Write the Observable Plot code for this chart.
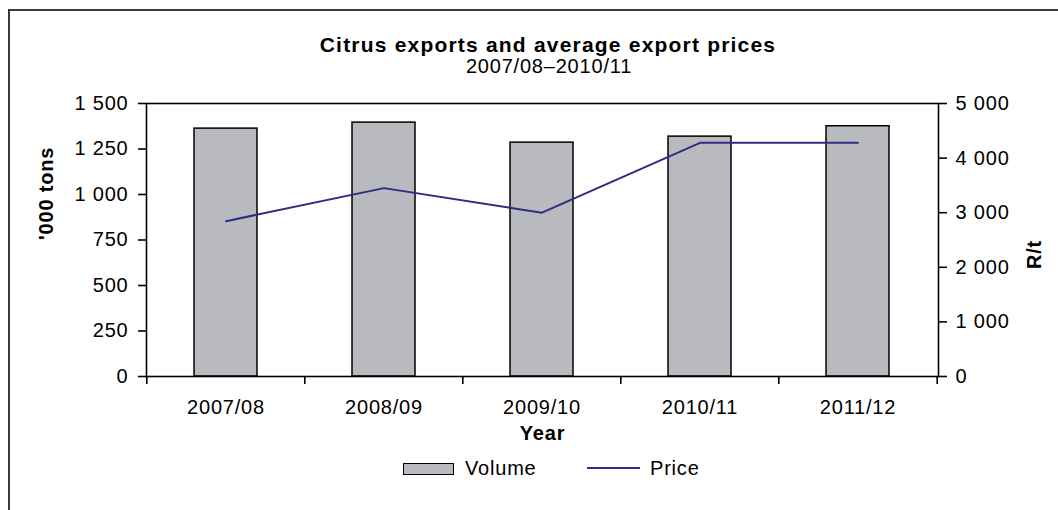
<!DOCTYPE html>
<html><head><meta charset="utf-8">
<script src="https://cdn.jsdelivr.net/npm/d3@7"></script>
<script src="https://cdn.jsdelivr.net/npm/@observablehq/plot@0.6"></script>
<style>
body{margin:0;background:#fff;font-family:"Liberation Sans",Arial,sans-serif;color:#000}
#wrap{position:relative;width:1058px;height:510px;overflow:hidden;background:#fff}
#border{position:absolute;left:8px;top:9px;width:1200px;height:700px;border:2px solid #3a3a3a;box-sizing:border-box}
#title{position:absolute;left:0;top:33px;width:1096px;text-align:center;font-size:21px;font-weight:bold;line-height:24px;letter-spacing:1.2px}
#subtitle{position:absolute;left:0;top:54px;width:1098px;text-align:center;font-size:20px;line-height:24px;letter-spacing:0.8px}
#chart{position:absolute;left:0;top:90px}
.lg{position:absolute;font-size:20px;line-height:24px;letter-spacing:0.8px}
#sw{position:absolute;left:403px;top:463px;width:51px;height:12px;box-sizing:border-box;border:1.5px solid #000;background:#b9babf}
#ln{position:absolute;left:587px;top:467px;width:53px;height:2px;background:#2f2b80}
</style></head>
<body><div id="wrap">
<div id="border"></div>
<div id="title">Citrus exports and average export prices</div>
<div id="subtitle">2007/08–2010/11</div>
<div id="chart"></div>
<div id="sw"></div><div class="lg" style="left:465px;top:456px">Volume</div>
<div id="ln"></div><div class="lg" style="left:650px;top:456px">Price</div>
</div>
<script>
const years = ["2007/08", "2008/09", "2009/10", "2010/11", "2011/12"];
const volume = [1362, 1395, 1285, 1318, 1375];
const price = [2845, 3450, 3000, 4280, 4280];
const volumeTicks = [0, 250, 500, 750, 1000, 1250, 1500];
const priceTicks = [0, 1000, 2000, 3000, 4000, 5000];
const volumeMax = 1500, priceMax = 5000;

const k = volumeMax / priceMax;
const data = years.map((year, i) => ({year, volume: volume[i], price: price[i]}));
const fmt = v => d3.format(",")(v).replace(/,/g, " ");
const W = 1058, H = 365, mL = 146, mR = 120, mT = 13, mB = 79;
const step = (W - mL - mR) / years.length;
const tickLen = 8 * volumeMax / (H - mT - mB);

const chart = Plot.plot({
  width: W, height: H, marginLeft: mL, marginRight: mR, marginTop: mT, marginBottom: mB,
  style: {fontFamily: '"Liberation Sans", Arial, sans-serif', fontSize: "20px", letterSpacing: "0.8px", color: "#000", background: "transparent", overflow: "visible"},
  x: {type: "band", domain: years, paddingInner: 0.6, paddingOuter: 0.3},
  y: {domain: [0, volumeMax]},
  marks: [
    Plot.barY(data, {x: "year", y: "volume", fill: "#b9babf", stroke: "#000", strokeWidth: 1.5}),
    Plot.line(data, {x: "year", y: d => d.price * k, stroke: "#2f2b80", strokeWidth: 2}),
    Plot.frame({stroke: "#000", strokeWidth: 1.6}),
    Plot.axisY({anchor: "left", ticks: volumeTicks, tickFormat: fmt, tickSize: 8, tickPadding: 10, label: null, strokeWidth: 1.6}),
    Plot.axisY({anchor: "right", ticks: priceTicks.map(p => p * k), tickFormat: v => fmt(Math.round(v / k)), tickSize: 8, tickPadding: 9, label: null, strokeWidth: 1.6}),
    Plot.axisX({tickSize: 0, tickPadding: 23, label: null}),
    Plot.ruleX(years, {x: d => d, dx: -step / 2, y1: 0, y2: -tickLen, stroke: "#000", strokeWidth: 1.6}),
    Plot.ruleX([years[years.length - 1]], {x: d => d, dx: step / 2, y1: 0, y2: -tickLen, stroke: "#000", strokeWidth: 1.6}),
    Plot.text(["Year"], {text: d => d, frameAnchor: "bottom", dy: 63, fontWeight: "bold"}),
    Plot.text(["'000 tons"], {text: d => d, frameAnchor: "left", dx: -100, rotate: -90, fontWeight: "bold"}),
    Plot.text(["R/t"], {text: d => d, frameAnchor: "right", dx: 96, rotate: -90, fontWeight: "bold"})
  ]
});
document.getElementById("chart").appendChild(chart);
</script>
</body></html>
